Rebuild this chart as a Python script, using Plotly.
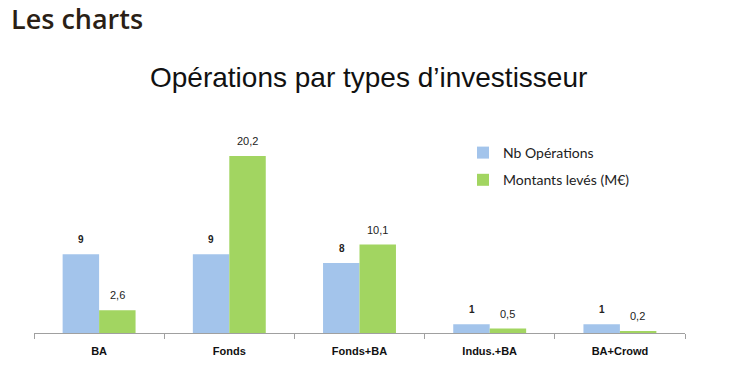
import plotly.graph_objects as go

categories = ["BA", "Fonds", "Fonds+BA", "Indus.+BA", "BA+Crowd"]
nb_operations = [9, 9, 8, 1, 1]
montants_leves = [2.6, 20.2, 10.1, 0.5, 0.2]

# page is offset by the browser's 8px body margin
L, R, T, B = 26, 70, 106, 55
W, H = 747, 380
pw, ph = W - L - R, H - T - B

def px_x(x):
    return (x - L) / pw

def px_y(y):
    return (H - B - y) / ph

fig = go.Figure()
fig.add_trace(go.Bar(
    x=categories, y=nb_operations, name="Nb Opérations", legendgroup="a",
    marker=dict(color="#A3C4EB", line=dict(width=0)),
))
fig.add_trace(go.Bar(
    x=categories, y=montants_leves, name="Montants levés (M€)", legendgroup="b",
    marker=dict(color="#A2D561", line=dict(width=0)),
))

annotations = []
for c, v in zip(categories, nb_operations):
    annotations.append(dict(x=c, y=v, xref="x", yref="y", text=f"<b>{v}</b>",
                            showarrow=False, xshift=-18, yshift=7, yanchor="bottom",
                            font=dict(family="Liberation Sans, Arial", size=10, color="#222")))
for c, v in zip(categories, montants_leves):
    annotations.append(dict(x=c, y=v, xref="x", yref="y", text=f"{v:.1f}".replace(".", ","),
                            showarrow=False, xshift=18, yshift=7, yanchor="bottom",
                            font=dict(family="Liberation Sans, Arial", size=11, color="#222")))
annotations.append(dict(text="Opérations par types d’investisseur", x=px_x(360), xref="paper",
                        y=px_y(69), yref="paper", showarrow=False, xanchor="center", yanchor="middle",
                        font=dict(family="Liberation Sans, Arial", size=28, color="#111")))
annotations.append(dict(text="Les charts", x=px_x(1), xref="paper", y=px_y(10), yref="paper",
                        showarrow=False, xanchor="left", yanchor="middle",
                        font=dict(family="Open Sans", size=27, color="#2B1F16", weight=600)))

fig.update_layout(
    width=W, height=H,
    margin=dict(l=L, r=R, t=T, b=B),
    paper_bgcolor="white", plot_bgcolor="white",
    barmode="group", bargap=0.44, bargroupgap=0,
    showlegend=True,
    legend=dict(x=px_x(455), y=px_y(129), xanchor="left", yanchor="top",
                font=dict(family="Lato, Open Sans", size=14, color="#222"),
                bgcolor="rgba(0,0,0,0)", tracegroupgap=6, itemwidth=30),
    xaxis=dict(showline=True, linecolor="#A0A0A0", linewidth=1,
               ticks="outside", tickson="boundaries", ticklen=5, tickcolor="#A0A0A0",
               tickfont=dict(family="Liberation Sans, Arial", size=11, color="#111"),
               tickprefix="<b>", ticksuffix="</b>", ticklabelstandoff=8,
               showgrid=False),
    yaxis=dict(range=[0, 25], visible=False, showgrid=False, zeroline=False),
    annotations=annotations,
)
fig.write_html("out.html")
